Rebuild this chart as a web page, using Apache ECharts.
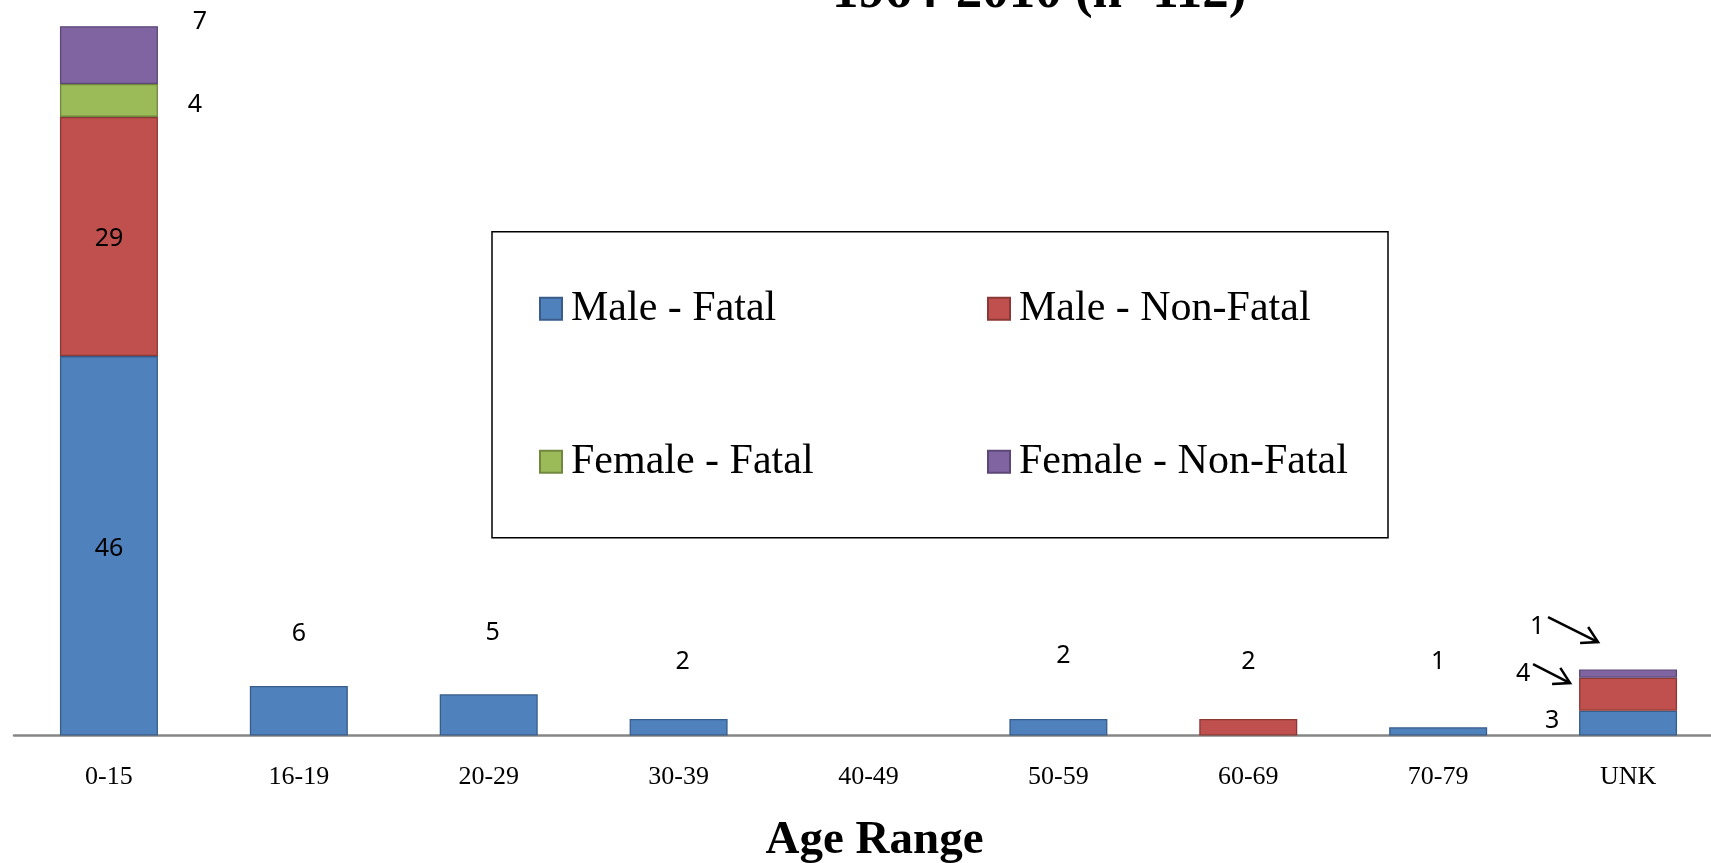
<!DOCTYPE html>
<html><head><meta charset="utf-8">
<script src="https://cdn.jsdelivr.net/npm/echarts@6/dist/echarts.min.js"></script>
<style>html,body{margin:0;padding:0;background:#fff}#c{width:1711px;height:863px}</style>
</head><body><div id="c"></div>
<script>
const categories = ['0-15','16-19','20-29','30-39','40-49','50-59','60-69','70-79','UNK'];
const maleFatal = [46,6,5,2,0,2,0,1,3];
const maleNonFatal = [29,0,0,0,0,0,2,0,4];
const femaleFatal = [4,0,0,0,0,0,0,0,0];
const femaleNonFatal = [7,0,0,0,0,0,0,0,1];
const seriesNames = ['Male - Fatal','Male - Non-Fatal','Female - Fatal','Female - Non-Fatal'];
const titleText = '1964-2010 (n=112)';
const xAxisName = 'Age Range';

const seriesValues = [maleFatal, maleNonFatal, femaleFatal, femaleNonFatal];
const fills = ['#4F81BD','#C0504D','#9BBB59','#8064A2'];
const borders = ['#385D8A','#8C3836','#71893F','#5C4776'];
// manual label placement (as in the original), offsets from the segment centre in px
const labelOffsets = [
  {0:[0,3], 1:[0,-77], 2:[4,-82], 3:[4,-65], 5:[5,-71], 7:[0,-70], 8:[-76,-2]},
  {0:[0,2], 6:[0,-65], 8:[-105,-20]},
  {0:[86,4]},
  {0:[91,-33], 8:[-91,-47]}
];

const series = seriesValues.map((vals, si) => ({
  name: seriesNames[si],
  type: 'bar',
  stack: 'total',
  barWidth: 98,
  itemStyle: {color: fills[si], borderColor: borders[si], borderWidth: 1.3},
  data: vals.map((v, ci) => {
    if (v === 0) return '-';
    const off = labelOffsets[si][ci];
    return {
      value: v,
      label: off ? {show: true, position: 'inside', offset: off} : {show: false}
    };
  }),
  label: {fontFamily: 'Noto Sans', fontSize: 25, color: '#000'}
}));

const chart = echarts.init(document.getElementById('c'));
chart.setOption({
  animation: false,
  backgroundColor: '#fff',
  title: {
    text: titleText, left: 827, top: -38,
    textStyle: {fontFamily: 'Liberation Serif', fontWeight: 'bold', fontSize: 53, color: '#000'}
  },
  legend: {
    data: seriesNames, left: 492, top: 231.7, width: 840,
    padding: [31, 14, 30, 47], itemGap: 61, itemWidth: 22, itemHeight: 22, icon: 'rect',
    borderColor: '#000', borderWidth: 1.5,
    textStyle: {fontFamily: 'Liberation Serif', fontSize: 42, color: '#000', width: 355, lineHeight: 77, padding: [15,0,0,4]}
  },
  grid: {left: 14, right: -12, top: 26.2, bottom: 127.5, outerBoundsMode: 'none'},
  xAxis: {
    type: 'category', data: categories,
    axisLine: {lineStyle: {color: '#868686', width: 2.5}},
    axisTick: {show: false},
    axisLabel: {fontFamily: 'Liberation Serif', fontSize: 26, color: '#000', margin: 29},
    name: xAxisName, nameLocation: 'middle', nameGap: 82,
    nameTextStyle: {fontFamily: 'Liberation Serif', fontWeight: 'bold', fontSize: 47, color: '#000', padding: [0,0,0,12]}
  },
  yAxis: {type: 'value', min: 0, max: 86, show: false, splitLine: {show: false}},
  series: series
});

function arrow(tail, head) {
  const dx = head[0]-tail[0], dy = head[1]-tail[1];
  const len = Math.hypot(dx, dy), ux = dx/len, uy = dy/len;
  const L = 18, a = 30*Math.PI/180, c = Math.cos(a), s = Math.sin(a);
  const p1 = [head[0] - L*(ux*c - uy*s), head[1] - L*(uy*c + ux*s)];
  const p2 = [head[0] - L*(ux*c + uy*s), head[1] - L*(uy*c - ux*s)];
  return [
    {type: 'line', shape: {x1: tail[0], y1: tail[1], x2: head[0], y2: head[1]}, style: {stroke: '#000', lineWidth: 2.5}},
    {type: 'polyline', shape: {points: [p1, head, p2]}, style: {stroke: '#000', lineWidth: 2.5, fill: null}}
  ];
}
const last = categories.length - 1;
const cumTop2 = maleFatal[last] + maleNonFatal[last] + femaleFatal[last];
const cumTop3 = cumTop2 + femaleNonFatal[last];
const pTop3 = chart.convertToPixel({gridIndex: 0}, [last, cumTop3]);
const pTop2 = chart.convertToPixel({gridIndex: 0}, [last, cumTop2]);
chart.setOption({graphic: [
  ...arrow([pTop3[0]-80, pTop3[1]-52.5], [pTop3[0]-30, pTop3[1]-27.5]),
  ...arrow([pTop2[0]-95, pTop2[1]-13.7], [pTop2[0]-58, pTop2[1]+5.3])
]});
</script>
</body></html>
